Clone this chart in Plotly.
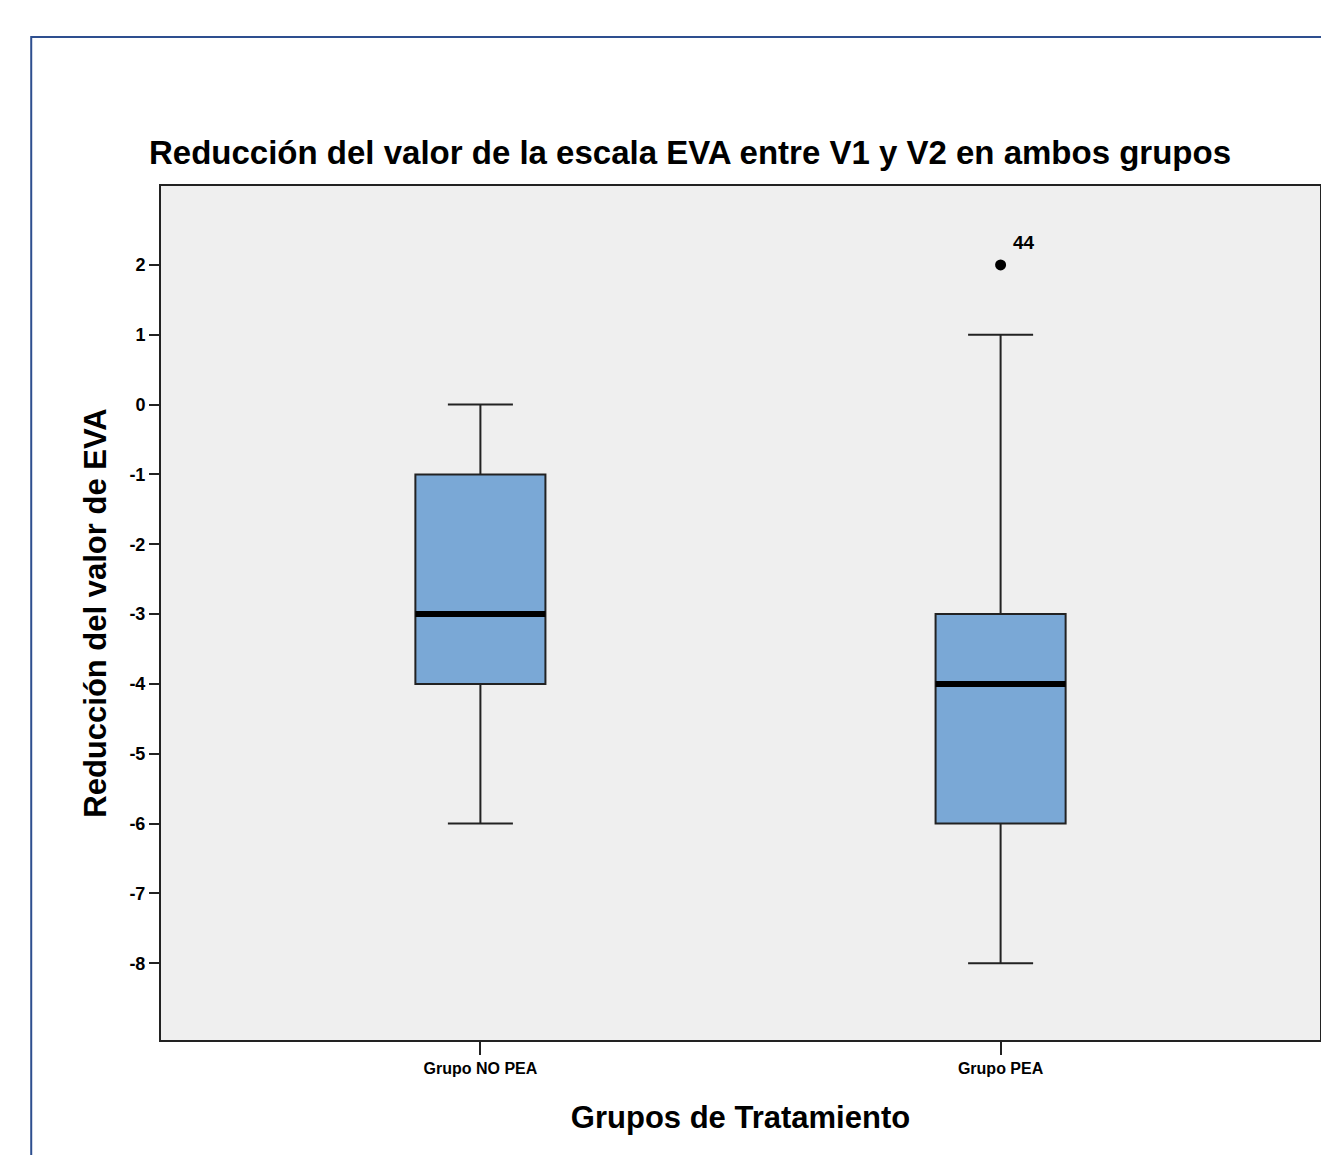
import plotly.graph_objects as go

# ---- data ----
groups = ["Grupo NO PEA", "Grupo PEA"]
group_pos = [0, 1]
q1 = [-4, -6]
median = [-3, -4]
q3 = [-1, -3]
lower_whisker = [-6, -8]
upper_whisker = [0, 1]
outlier_group = [1]
outlier_value = [2]
outlier_label = ["44"]
y_ticks = [2, 1, 0, -1, -2, -3, -4, -5, -6, -7, -8]

BOX_W = 0.25
FILL = "#7aa8d6"
W, H = 1321, 1147  # page body adds an 8px offset

fig = go.Figure()
for i, g in enumerate(groups):
    fig.add_trace(go.Box(
        x=[group_pos[i]], q1=[q1[i]], median=[median[i]], q3=[q3[i]],
        lowerfence=[lower_whisker[i]], upperfence=[upper_whisker[i]],
        width=BOX_W, whiskerwidth=0.5, fillcolor=FILL,
        line=dict(color="#222222", width=2), name=g, showlegend=False,
        hoverinfo="skip",
    ))
    fig.add_trace(go.Scatter(
        x=[group_pos[i] - BOX_W / 2, group_pos[i] + BOX_W / 2],
        y=[median[i], median[i]], mode="lines",
        line=dict(color="black", width=6), showlegend=False, hoverinfo="skip",
    ))

fig.add_trace(go.Scatter(
    x=outlier_group, y=outlier_value, mode="markers",
    marker=dict(color="black", size=11, symbol="circle"),
    showlegend=False, hoverinfo="skip",
))
for gx, v, lab in zip(outlier_group, outlier_value, outlier_label):
    fig.add_annotation(x=gx, y=v, text="<b>%s</b>" % lab, showarrow=False,
                       xshift=23, yshift=22,
                       font=dict(family="Liberation Sans", size=19, color="black"))

axis_common = dict(showline=True, linecolor="#222222", linewidth=2, mirror=True,
                   ticks="outside", tickwidth=2, tickcolor="#222222",
                   showgrid=False, zeroline=False)

fig.update_layout(
    width=W, height=H,
    margin=dict(l=153, r=7, t=178, b=115),
    paper_bgcolor="white", plot_bgcolor="#efefef",
    title=dict(text="<b>Reducción del valor de la escala EVA entre V1 y V2 en ambos grupos</b>",
               x=(690 - 8) / W, xanchor="center", y=1 - (152 - 8) / H, yanchor="middle",
               font=dict(family="Liberation Sans", size=33, color="black")),
    xaxis=dict(range=[-0.614, 1.614], tickvals=group_pos, ticktext=["<b>%s</b>" % g for g in groups],
               ticklen=13,
               tickfont=dict(family="Liberation Sans", size=16, color="black"),
               title=dict(text="<b>Grupos de Tratamiento</b>", standoff=30,
                          font=dict(family="Liberation Sans", size=31, color="black")),
               **axis_common),
    yaxis=dict(range=[-9.1, 3.13], tickvals=y_ticks, ticktext=["<b>%d</b>" % t for t in y_ticks],
               ticklen=10,
               tickfont=dict(family="Liberation Sans", size=18, color="black"),
               title=dict(text="<b>Reducción del valor de EVA</b>", standoff=14,
                          font=dict(family="Liberation Sans", size=31, color="black")),
               **axis_common),
    shapes=[dict(type="rect", xref="paper", yref="paper",
                 x0=(31 - 161) / 1161, x1=1.2, y0=-0.3, y1=1 + (186 - 37) / 854,
                 line=dict(color="#2e4f8f", width=2), fillcolor="rgba(0,0,0,0)", layer="below")],
)

fig.write_html("out.html")
